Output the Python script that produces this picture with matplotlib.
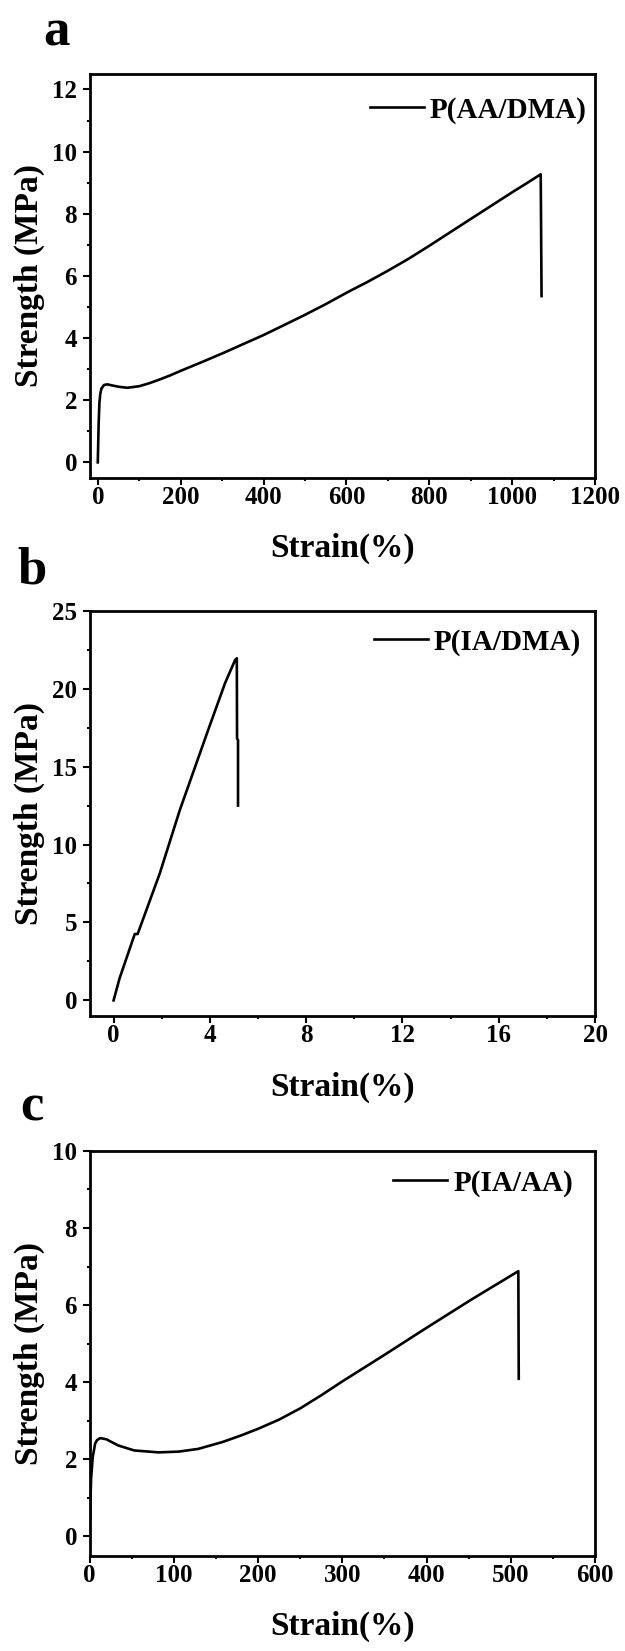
import matplotlib
matplotlib.use("Agg")
import matplotlib.pyplot as plt
from matplotlib.ticker import MultipleLocator

# Tensile stress-strain curves for three copolymer hydrogels
aa_dma_strain = [0, 2, 3.9, 6, 8.7, 15, 23, 40, 52, 71, 100, 125, 148, 175, 201,
                 250, 303, 350, 399, 450, 496, 550, 602, 650, 698, 750, 799,
                 850, 901, 950, 1000, 1035, 1069, 1071]
aa_dma_stress = [0, 1.2, 1.91, 2.2, 2.37, 2.49, 2.51, 2.46, 2.43, 2.40, 2.45,
                 2.55, 2.66, 2.80, 2.95, 3.22, 3.52, 3.80, 4.09, 4.42, 4.72,
                 5.09, 5.47, 5.80, 6.15, 6.55, 6.96, 7.40, 7.84, 8.26, 8.69,
                 8.98, 9.27, 5.35]

ia_dma_strain = [0, 0.25, 0.88, 1.0, 1.92, 2.75, 3.93, 4.63, 5.05, 5.12, 5.13,
                 5.17, 5.17]
ia_dma_stress = [0, 1.42, 4.26, 4.26, 8.15, 12.2, 17.35, 20.35, 21.84, 21.95,
                 16.8, 16.7, 12.5]

ia_aa_strain = [0, 1.0, 1.9, 3.8, 6.7, 9, 12.8, 20, 34, 53, 82, 106, 129, 158,
                180, 201, 225, 250, 275, 300, 348, 400, 453, 509, 509.5]
ia_aa_stress = [0, 0.8, 1.5, 2.05, 2.41, 2.50, 2.55, 2.52, 2.36, 2.23, 2.18,
                2.20, 2.27, 2.45, 2.62, 2.80, 3.03, 3.32, 3.66, 4.02, 4.68,
                5.41, 6.14, 6.88, 4.09]

panel_letters = ["a", "b", "c"]
series_names = ["P(AA/DMA)", "P(IA/DMA)", "P(IA/AA)"]
x_label = "Strain(%)"
y_label = "Strength (MPa)"

plt.rcParams["font.family"] = ["Liberation Serif", "DejaVu Serif"]
plt.rcParams["font.weight"] = "bold"
plt.rcParams["axes.labelweight"] = "bold"
plt.rcParams["axes.linewidth"] = 2.0

fig = plt.figure(figsize=(6.25, 16.51), dpi=100)

W, H = 625.0, 1651.0
# axes boxes in pixels: left, top, right, bottom
boxes = [(89.5, 73.9, 595.0, 477.9),
         (89.5, 610.7, 595.0, 1016.0),
         (89.5, 1150.9, 595.0, 1555.7)]

settings = [
    dict(x=aa_dma_strain, y=aa_dma_stress, xlim=(-20, 1200), ylim=(-0.5, 12.5),
         xmaj=200, xmin=100, ymaj=2, ymin=1, leg=(0.9836, 0.9106)),
    dict(x=ia_dma_strain, y=ia_dma_stress, xlim=(-1, 20), ylim=(-1, 25),
         xmaj=4, xmin=2, ymaj=5, ymin=2.5, leg=(0.9723, 0.9228)),
    dict(x=ia_aa_strain, y=ia_aa_stress, xlim=(0, 600), ylim=(-0.5, 10),
         xmaj=100, xmin=50, ymaj=2, ymin=1, leg=(0.9565, 0.9207)),
]

letter_pos = [(43, 45), (17, 583), (20, 1120)]

for i, (box, s) in enumerate(zip(boxes, settings)):
    l, t, r, b = box
    ax = fig.add_axes([l / W, 1 - b / H, (r - l) / W, (b - t) / H])
    ax.plot(s["x"], s["y"], color="black", lw=1.9, label=series_names[i],
            solid_joinstyle="round")
    ax.set_xlim(*s["xlim"])
    ax.set_ylim(*s["ylim"])
    ax.xaxis.set_major_locator(MultipleLocator(s["xmaj"]))
    ax.xaxis.set_minor_locator(MultipleLocator(s["xmin"]))
    ax.yaxis.set_major_locator(MultipleLocator(s["ymaj"]))
    ax.yaxis.set_minor_locator(MultipleLocator(s["ymin"]))
    ax.tick_params(which="both", direction="out", width=1.5, labelsize=18)
    ax.tick_params(which="major", length=5)
    ax.tick_params(which="minor", length=2.5)
    ax.tick_params(axis="x", which="major", pad=1)
    ax.tick_params(axis="y", which="major", pad=4)
    for lab in ax.get_xticklabels() + ax.get_yticklabels():
        lab.set_fontweight("bold")
    ax.set_xlabel(x_label, fontsize=24)
    ax.set_ylabel(y_label, fontsize=24)
    ax.xaxis.set_label_coords(0.5, -0.137)
    ax.yaxis.set_label_coords(-0.088, 0.5)
    ax.legend(loc="center right", bbox_to_anchor=s["leg"], frameon=False,
              handlelength=1.86, handletextpad=0.2,
              borderpad=0, borderaxespad=0, prop={"weight": "bold", "size": 21})
    lx, ly = letter_pos[i]
    fig.text(lx / W, 1 - ly / H, panel_letters[i], fontsize=38,
             fontweight="bold", ha="left", va="baseline")

fig.savefig("out.png", dpi=100)
